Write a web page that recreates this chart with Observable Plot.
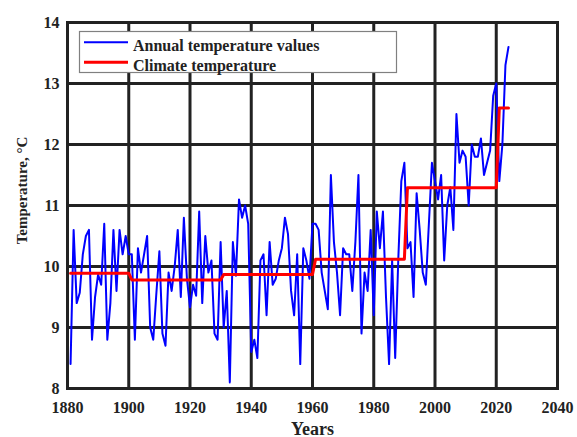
<!DOCTYPE html>
<html>
<head>
<meta charset="utf-8">
<script src="https://cdn.jsdelivr.net/npm/d3@7"></script>
<script src="https://cdn.jsdelivr.net/npm/@observablehq/plot@0.6"></script>
<style>
  body { margin: 0; background: #fff; }
  #chart { position: relative; width: 577px; height: 437px; }
  #overlay { position: absolute; left: 0; top: 0; pointer-events: none; }
</style>
</head>
<body>
<div id="chart"></div>
<script>
// Annual mean temperature, 1881–2024 (°C)
const years = d3.range(1881, 2025);
const annualTemps = [
  8.4, 10.6, 9.4, 9.57, 10.2, 10.5, 10.6, 8.8, 9.5, 9.87,
  9.7, 10.7, 8.8, 9.4, 10.6, 9.6, 10.6, 10.2, 10.5, 10.2,
  10.2, 8.8, 10.3, 9.9, 10.2, 10.5, 9.0, 8.8, 9.55, 10.25,
  8.9, 8.7, 9.9, 9.6, 10.0, 10.6, 9.5, 10.8, 9.8, 9.33,
  9.7, 9.52, 10.9, 9.4, 10.5, 9.9, 10.1, 8.9, 8.8, 10.4,
  9.0, 9.6, 8.1, 10.4, 9.85, 11.1, 10.8, 11.0, 10.7, 8.6,
  8.8, 8.5, 10.1, 10.2, 9.2, 10.4, 9.7, 9.8, 10.1, 10.3,
  10.8, 10.53, 9.6, 9.2, 10.2, 8.4, 10.3, 10.1, 9.8, 10.7,
  10.7, 10.6, 9.9, 9.6, 9.3, 11.5, 10.4, 9.9, 9.2, 10.3,
  10.2, 10.2, 9.6, 10.4, 11.5, 8.9, 9.9, 9.6, 10.6, 9.2,
  10.9, 10.3, 10.9, 9.5, 8.4, 10.1, 8.5, 10.1, 11.4, 11.7,
  10.3, 10.4, 9.5, 11.2, 10.6, 9.9, 9.7, 10.7, 11.7, 11.4,
  11.1, 11.5, 10.1, 11.0, 11.3, 10.6, 12.5, 11.7, 11.9, 11.8,
  11.0, 12.0, 11.8, 11.8, 12.1, 11.5, 11.7, 11.9, 12.8, 13.0,
  11.4, 12.0, 13.3, 13.6
];

// 30-year climate normals: first and last year of each period with its mean
const climateYears  = [1881, 1900, 1901, 1930, 1931, 1960, 1961, 1990, 1991, 2020, 2021, 2024];
const climateTemps  = [9.89, 9.89, 9.78, 9.78, 9.87, 9.87, 10.12, 10.12, 11.29, 11.29, 12.6, 12.6];

// Axis ticks
const xTicks = [1880, 1900, 1920, 1940, 1960, 1980, 2000, 2020, 2040];
const yTicks = [8, 9, 10, 11, 12, 13, 14];

// Legend entries
const seriesNames = ["Annual temperature values", "Climate temperature"];
const seriesColors = ["#0000ff", "#ff0000"];

const annual = years.map((year, i) => ({year, temp: annualTemps[i]}));
const climate = climateYears.map((year, i) => ({year, temp: climateTemps[i]}));

const serif = "'Liberation Serif', 'Times New Roman', Times, serif";
const ink = "#222";

const plot = Plot.plot({
  width: 577,
  height: 437,
  marginLeft: 67,
  marginRight: 20,
  marginTop: 22,
  marginBottom: 49,
  style: {fontFamily: serif, fontWeight: "bold", color: ink, background: "#fff"},
  x: {domain: [1880, 2040]},
  y: {domain: [8, 14]},
  marks: [
    Plot.ruleX(xTicks, {stroke: ink, strokeWidth: 3}),
    Plot.ruleY(yTicks, {stroke: ink, strokeWidth: 3}),
    Plot.frame({stroke: ink, strokeWidth: 3}),
    Plot.axisX(xTicks, {tickSize: 0, tickPadding: 13, fontSize: 16, fontWeight: "bold", tickFormat: d => String(d), label: null}),
    Plot.axisY(yTicks, {tickSize: 0, tickPadding: 8, fontSize: 16, fontWeight: "bold", tickFormat: d => String(d), label: null}),
    Plot.text(["Years"], {frameAnchor: "bottom", dy: 46, fontSize: 18, fontWeight: "bold", fill: ink}),
    Plot.line(annual, {x: "year", y: "temp", stroke: seriesColors[0], strokeWidth: 2}),
    Plot.line(climate, {x: "year", y: "temp", stroke: seriesColors[1], strokeWidth: 3})
  ]
});

const chart = document.getElementById("chart");
chart.appendChild(plot);

const overlay = d3.select(chart).append("svg")
  .attr("id", "overlay")
  .attr("width", 577)
  .attr("height", 437);

// Rotated y-axis title
overlay.append("text")
  .attr("transform", "translate(27,190.5) rotate(-90)")
  .attr("text-anchor", "middle")
  .attr("font-family", serif).attr("font-weight", "bold").attr("font-size", 15)
  .attr("fill", ink)
  .text("Temperature, °C");

// Legend box over the upper-left of the plot area
overlay.append("rect")
  .attr("x", 79.5).attr("y", 31.5)
  .attr("width", 317).attr("height", 41)
  .attr("fill", "#fff").attr("stroke", "#808080").attr("stroke-width", 1.2);
const rows = overlay.selectAll("g.entry")
  .data(seriesNames)
  .join("g")
  .attr("class", "entry")
  .attr("transform", (d, i) => `translate(0,${42.3 + i * 20})`);
rows.append("line")
  .attr("x1", 84).attr("x2", 128)
  .attr("stroke", (d, i) => seriesColors[i])
  .attr("stroke-width", (d, i) => i === 0 ? 2 : 3);
rows.append("text")
  .attr("x", 133).attr("y", 8.5)
  .attr("font-family", serif).attr("font-weight", "bold").attr("font-size", 16)
  .attr("fill", ink)
  .text(d => d);
</script>
</body>
</html>
